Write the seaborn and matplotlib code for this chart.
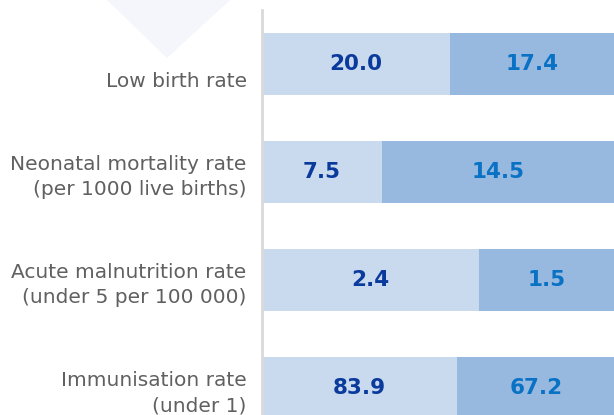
import numpy as np
import pandas as pd
import seaborn as sns
import matplotlib.pyplot as plt
from matplotlib.patches import Polygon

# data
indicators = [
    "\nLow birth rate",
    "Neonatal mortality rate\n(per 1000 live births)",
    "Acute malnutrition rate\n(under 5 per 100 000)",
    "Immunisation rate\n(under 1)",
]
first_vals = [20.0, 7.5, 2.4, 83.9]
second_vals = [17.4, 14.5, 1.5, 67.2]

c_first = "#C9D9EE"
c_second = "#97B9DF"
t_first = "#0A3A9C"
t_second = "#0A72C4"

sns.set_style("white")
plt.rcParams["font.family"] = ["DejaVu Sans"]

df = pd.DataFrame({"indicator": indicators, "first": first_vals, "second": second_vals})
df["total"] = df["first"] + df["second"]
df["share1"] = df["first"] / df["total"]
df["full"] = 1.0

fig = plt.figure(figsize=(6.14, 4.15), dpi=100)

# faint decorative shape in the top left
fig.patches.append(Polygon([[107 / 614, 1], [167 / 614, 1 - 58 / 415], [230 / 614, 1]],
                           closed=True, transform=fig.transFigure,
                           facecolor="#F4F6FB", edgecolor="none", zorder=0))

ax = fig.add_axes([262 / 614, 0, 1 - 262 / 614, 1 - 10 / 415])
ax.set_facecolor("none")

sns.barplot(data=df, y="indicator", x="full", color=c_second, orient="h",
            width=0.565, saturation=1, linewidth=0, ax=ax)
sns.barplot(data=df, y="indicator", x="share1", color=c_first, orient="h",
            width=0.565, saturation=1, linewidth=0, ax=ax)

for i, row in df.iterrows():
    ax.text(row["share1"] / 2, i, f"{row['first']:.1f}", ha="center", va="center",
            fontsize=15.5, fontweight="bold", color=t_first)
    ax.text((row["share1"] + 1) / 2, i, f"{row['second']:.1f}", ha="center", va="center",
            fontsize=15.5, fontweight="bold", color=t_second)

ax.set_xlim(0, 1)
ax.set_ylim(3.25, -0.5)
ax.set_xlabel("")
ax.set_ylabel("")
ax.set_xticks([])
ax.tick_params(axis="y", length=0, pad=11, labelsize=14.5, labelcolor="#606060")
for lbl in ax.get_yticklabels():
    lbl.set_multialignment("right")
    lbl.set_linespacing(1.42)
sns.despine(ax=ax, top=True, right=True, bottom=True, left=False)
ax.spines["left"].set_color("#D9D9D9")
ax.spines["left"].set_linewidth(2)

fig.savefig("out.png", dpi=100)
